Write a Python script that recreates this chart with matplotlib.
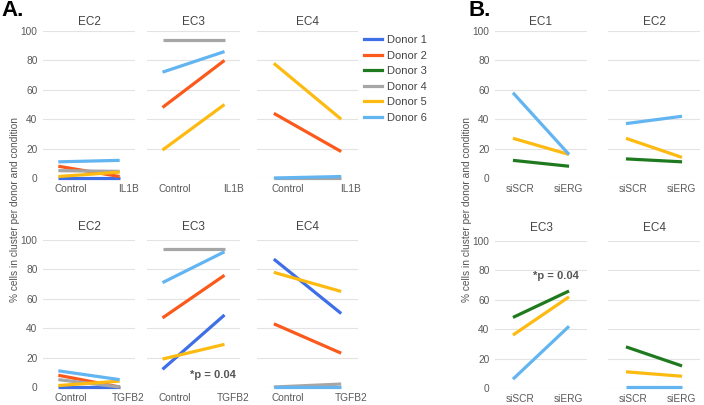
import numpy as np
import matplotlib.pyplot as plt

plt.rcParams['font.family'] = ['Liberation Sans', 'DejaVu Sans']

donors = ['Donor 1', 'Donor 2', 'Donor 3', 'Donor 4', 'Donor 5', 'Donor 6']
colors = ['#3f6fe6', '#fb5a1c', '#1f7a1f', '#a6a6a6', '#fdbb12', '#62b5f0']

cond_il1b = ['Control', 'IL1B']
cond_tgfb2 = ['Control', 'TGFB2']
cond_sierg = ['siSCR', 'siERG']

# values per donor: (first condition, second condition)
a_il1b = {
    'EC2': {1: (0, 0), 2: (8, 1), 4: (5, 4.5), 5: (1, 4), 6: (11, 12)},
    'EC3': {2: (48, 80), 4: (94, 94), 5: (19, 50), 6: (72, 86)},
    'EC4': {2: (44, 18), 4: (0, 0), 5: (78, 40), 6: (0, 1)},
}
a_tgfb2 = {
    'EC2': {1: (0, 0), 2: (8, 0), 4: (5, 0), 5: (1, 4), 6: (11, 5)},
    'EC3': {1: (12, 49), 2: (47, 76), 4: (94, 94), 5: (19, 29), 6: (71, 92)},
    'EC4': {1: (87, 50), 2: (43, 23), 4: (0, 2), 5: (78, 65), 6: (0, 0)},
}
b_top = {
    'EC1': {3: (12, 8), 5: (27, 16), 6: (58, 16)},
    'EC2': {3: (13, 11), 5: (27, 14), 6: (37, 42)},
}
b_bottom = {
    'EC3': {3: (48, 66), 5: (36, 62), 6: (6, 42)},
    'EC4': {3: (28, 15), 5: (11, 8), 6: (1, 1)},
}

W, H = 704, 405
fig = plt.figure(figsize=(W / 100, H / 100), dpi=100)


def add_ax(x0, x1, y0, y1):
    return fig.add_axes([x0 / W, 1 - y1 / H, (x1 - x0) / W, (y1 - y0) / H])


def draw(ax, title, data, conds, show_y, title_pad, margin, ticks):
    for d in sorted(data):
        ax.plot([0, 1], data[d], color=colors[d - 1], lw=2.3,
                solid_capstyle='butt', clip_on=False, zorder=3)
    ax.set_xlim(-margin, 1 + margin)
    ax.set_ylim(0, 100)
    ax.set_yticks(np.arange(0, 101, 20))
    ax.set_xticks(ticks)
    ax.set_xticklabels(conds)
    ax.grid(axis='y', color='#e3e3e3', lw=0.8)
    ax.set_axisbelow(True)
    for s in ax.spines.values():
        s.set_visible(False)
    ax.tick_params(length=0, labelsize=7.3, colors='#5a5a5a', pad=4)
    if not show_y:
        ax.set_yticklabels([])
    ax.set_title(title, fontsize=8.5, color='#444444', pad=title_pad)


# panel A
xa = [(43, 135), (147, 240), (257, 358)]
for i, ec in enumerate(['EC2', 'EC3', 'EC4']):
    ax = add_ax(xa[i][0], xa[i][1], 31, 178)
    draw(ax, ec, a_il1b[ec], cond_il1b, i == 0, 4, 0.25, [0.2, 1.14])
for i, ec in enumerate(['EC2', 'EC3', 'EC4']):
    ax = add_ax(xa[i][0], xa[i][1], 240, 387)
    draw(ax, ec, a_tgfb2[ec], cond_tgfb2, i == 0, 7, 0.25, [0.2, 1.14])
    if ec == 'EC3':
        ax.text(0.82, 8, '*p = 0.04', fontsize=8, fontweight='bold',
                color='#555555', ha='center', va='center')

# panel B
xb = [(495, 587), (608, 700)]
for i, ec in enumerate(['EC1', 'EC2']):
    ax = add_ax(xb[i][0], xb[i][1], 31, 178)
    draw(ax, ec, b_top[ec], cond_sierg, i == 0, 4, 0.32, [0.12, 0.98])
for i, ec in enumerate(['EC3', 'EC4']):
    ax = add_ax(xb[i][0], xb[i][1], 241, 388)
    draw(ax, ec, b_bottom[ec], cond_sierg, i == 0, 7, 0.32, [0.12, 0.98])
    if ec == 'EC3':
        ax.text(0.76, 76, '*p = 0.04', fontsize=8, fontweight='bold',
                color='#555555', ha='center', va='center')

# legend
handles = [plt.Line2D([], [], color=c, lw=2.3) for c in colors]
fig.legend(handles, donors, loc='upper left', bbox_to_anchor=(364 / W, 1 - 35 / H),
           frameon=False, fontsize=8, handlelength=1.6, labelspacing=0.5,
           handletextpad=0.5, borderaxespad=0, borderpad=0,
           labelcolor='#444444')

ylab = '% cells in cluster per donor and condition'
fig.text(15 / W, 1 - 209 / H, ylab, rotation=90, ha='center', va='center',
         fontsize=7.3, color='#555555')
fig.text(467 / W, 1 - 209 / H, ylab, rotation=90, ha='center', va='center',
         fontsize=7.3, color='#555555')

fig.text(1 / W, 1 - 11 / H, 'A.', fontsize=16, fontweight='bold', va='center')
fig.text(468 / W, 1 - 11 / H, 'B.', fontsize=16, fontweight='bold', va='center')

fig.savefig('out.png', dpi=100)
